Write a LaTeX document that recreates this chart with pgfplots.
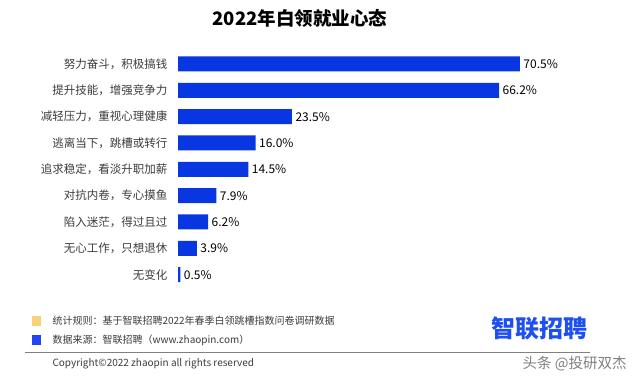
\documentclass[border=0pt]{standalone}
\usepackage{pgfplots}
\pgfplotsset{compat=1.18}
\usepackage{fontspec}
\setmainfont{Noto Sans CJK SC}
\definecolor{barblue}{RGB}{8,55,225}
\definecolor{logoblue}{RGB}{30,80,240}
\definecolor{sqyellow}{RGB}{248,210,120}
\definecolor{sqblue}{RGB}{33,72,240}
\definecolor{labgray}{RGB}{60,60,60}
\begin{document}
\begin{tikzpicture}[x=1pt,y=1pt]
\path[use as bounding box,fill=white] (0,0) rectangle (640,385);
\node[font=\bfseries\fontsize{18.5}{20}\selectfont] at (300,367) {2022年白领就业心态};
\begin{axis}[
  at={(178pt,334.2pt)}, anchor=north west,
  scale only axis, width=388pt, height=237pt,
  xbar, bar width=15pt,
  xmin=0, xmax=80, ymin=-0.5, ymax=8.5,
  y dir=reverse,
  axis line style={draw=none},
  major tick length=0pt,
  xtick=\empty,
  ytick={0,...,8},
  yticklabels={努力奋斗，积极搞钱,提升技能，增强竞争力,减轻压力，重视心理健康,逃离当下，跳槽或转行,追求稳定，看淡升职加薪,对抗内卷，专心摸鱼,陷入迷茫，得过且过,无心工作，只想退休,无变化},
  yticklabel style={font=\fontsize{11.5}{12}\selectfont, text=labgray, xshift=-7pt},
  /pgf/number format/assume math mode=true,
  nodes near coords={\pgfmathprintnumber[fixed,fixed zerofill,precision=1]{\pgfplotspointmeta}\%},
  nodes near coords style={font=\fontsize{12}{13}\selectfont, text=black, xshift=0pt},
  point meta=x,
]
\addplot[fill=barblue, draw=none] coordinates {
(70.5,0) (66.2,1) (23.5,2) (16.0,3) (14.5,4) (7.9,5) (6.2,6) (3.9,7) (0.5,8)};
\end{axis}
\fill[sqyellow] (32,385-326) rectangle (41,385-316);
\fill[sqblue] (32,385-345) rectangle (41,385-335);
\node[anchor=west, font=\fontsize{10}{11}\selectfont, text=labgray] at (49,385-321) {统计规则：基于智联招聘2022年春季白领跳槽指数问卷调研数据};
\node[anchor=west, font=\fontsize{10}{11}\selectfont, text=labgray] at (49,385-340) {数据来源：智联招聘（www.zhaopin.com）};
\draw[gray, line width=0.8pt] (25,385-352) -- (590,385-352);
\node[anchor=west, font=\fontsize{10}{11}\selectfont, text=labgray] at (49,385-364) {Copyright©2022 zhaopin all rights reserved};
\node[anchor=center, font=\bfseries\fontsize{24}{26}\selectfont, text=logoblue] at (539,385-328) {智联招聘};
\node[anchor=west, font=\fontsize{14.5}{15}\selectfont, text=gray] at (519,385-364) {头条 @投研双杰};
\end{tikzpicture}
\end{document}
